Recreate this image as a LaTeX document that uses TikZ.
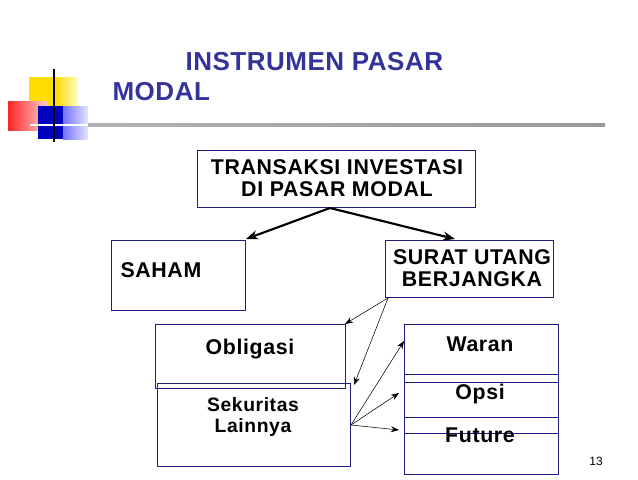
\documentclass[tikz,border=0pt]{standalone}
\usepackage{fontspec}
\setmainfont{Liberation Sans}
\newfontfamily\spaced[LetterSpace=3]{Liberation Sans}
\newfontfamily\titlefont[LetterSpace=2]{Liberation Sans}
\usetikzlibrary{arrows.meta}
\definecolor{titleblue}{RGB}{51,51,153}
\definecolor{boxblue}{RGB}{30,30,130}
\begin{document}
\begin{tikzpicture}[x=0.75pt, y=-0.75pt, thick,
    box/.style = {draw=boxblue, semithick},
    lbl/.style = {font=\spaced\bfseries\fontsize{16}{17}\selectfont, align=center},
    thin arrow/.style = {-{Stealth[length=6pt]}, thin},
    thick arrow/.style = {-{Stealth[length=9pt]}, line width=1.6pt}]

    \useasboundingbox (0,0) rectangle (638,479);

    % logo
    \fill[yellow!80!orange] (29,77) rectangle (55,107);
    \shade[left color=yellow!70!orange, right color=yellow!25] (55,77) rectangle (78,107);
    \shade[left color=red!85, right color=red!20] (8,101) rectangle (47,130);
    \fill[blue!75!black] (38,106) rectangle (63,139);
    \shade[left color=blue!55, right color=blue!10] (63,106) rectangle (88,139);
    \draw[white, line width=1.2pt] (30,125) -- (90,125);
    \draw[black, line width=1.5pt] (54,69) -- (54,142);
    \shade[left color=gray!60, right color=gray!80] (88,123.5) rectangle (605,126.5);

    % title
    \node[anchor=west, inner sep=0pt, text=titleblue, font=\titlefont\bfseries\fontsize{19.5}{21}\selectfont] (title1) at (185,62) {INSTRUMEN PASAR};
    \node[anchor=west, inner sep=0pt, text=titleblue, font=\titlefont\bfseries\fontsize{19.5}{21}\selectfont] (title2) at (112,92) {MODAL};

    % boxes
    \draw[box] (197,150) rectangle (475,207);
    \node[lbl] (trans) at (337,178) {TRANSAKSI INVESTASI\\DI PASAR MODAL};
    \draw[box] (111,240) rectangle (245,310);
    \node[lbl, anchor=west, inner sep=0pt] (saham) at (120,270) {SAHAM};
    \draw[box] (385,240) rectangle (553,297);
    \node[lbl] (surat) at (472,268) {SURAT UTANG\\ BERJANGKA};
    \draw[box] (155,324) rectangle (345,388);
    \node[lbl] (oblig) at (250,349) {Obligasi};
    \draw[box] (157,383) rectangle (350,466);
    \node[lbl, font=\spaced\bfseries\fontsize{14.5}{16}\selectfont] (sekur) at (253,417) {Sekuritas\\Lainnya};
    \draw[box] (404,324) rectangle (558,474);
    \draw[box] (404,374) -- (558,374);
    \draw[box] (404,382) -- (558,382);
    \draw[box] (404,417) -- (558,417);
    \draw[box] (404,433) -- (558,433);
    \node[lbl] (waran) at (480,344) {Waran};
    \node[lbl] (opsi) at (480,394) {Opsi};
    \node[lbl] (future) at (480,435) {Future};

    \coordinate (tb) at (330,208);
    \coordinate (sahamtop) at (246,239);
    \coordinate (surattop) at (455,239);
    \coordinate (suratbl) at (388,298);
    \coordinate (obligtr) at (345,324);
    \coordinate (sekurtr) at (354,385);
    \coordinate (sekurr) at (351,425);
    \coordinate (waranl) at (404,341);
    \coordinate (opsil) at (399,393);
    \coordinate (futurel) at (399,430);

    \draw[thick arrow] (tb) to (sahamtop);
    \draw[thick arrow] (tb) to (surattop);
    \draw[thin arrow] (suratbl) to (obligtr);
    \draw[thin arrow] (suratbl) to (sekurtr);
    \draw[thin arrow] (sekurr) to (waranl);
    \draw[thin arrow] (sekurr) to (opsil);
    \draw[thin arrow] (sekurr) to (futurel);

    \node[font=\fontsize{9}{11}\selectfont] (page) at (596,461) {13};

\end{tikzpicture}
\end{document}
